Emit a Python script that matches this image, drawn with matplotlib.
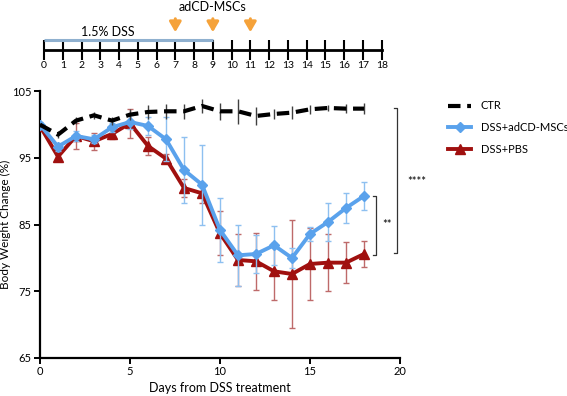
import matplotlib
matplotlib.use("Agg")
import matplotlib.pyplot as plt
import numpy as np

plt.rcParams['font.family'] = ['Lato', 'DejaVu Sans']

days = list(range(19))
ctr = [100.0, 98.5, 100.6, 101.4, 100.6, 101.5, 101.9, 102.0, 102.0, 102.8, 102.0, 102.0,
       101.3, 101.6, 101.8, 102.3, 102.5, 102.4, 102.4]
ctr_err = [0.3, 0.5, 0.5, 0.5, 0.6, 0.8, 1.1, 1.1, 1.1, 1.1, 1.25, 1.9,
           1.3, 0.8, 1.0, 0.7, 0.5, 0.7, 0.8]
msc = [100.0, 96.7, 98.3, 97.8, 99.6, 100.4, 99.8, 97.8, 93.2, 91.0, 84.2, 80.4,
       80.6, 81.9, 80.0, 83.6, 85.4, 87.5, 89.3]
msc_err = [0.4, 0.6, 0.7, 0.6, 0.7, 1.0, 1.4, 3.3, 5.0, 6.0, 4.75, 4.55,
           2.9, 2.9, 1.5, 1.0, 2.9, 2.3, 2.05]
pbs = [99.8, 95.2, 98.3, 97.5, 98.6, 100.2, 96.8, 94.9, 90.5, 89.7, 83.7, 79.7,
       79.5, 78.0, 77.6, 79.1, 79.3, 79.3, 80.6]
pbs_err = [0.4, 0.5, 1.9, 1.25, 0.8, 2.15, 1.3, 0.7, 1.3, 1.5, 3.3, 3.9,
           4.25, 4.3, 8.1, 5.4, 4.3, 3.1, 1.9]

timeline_days = list(range(19))
dss_period = (0, 9)
injection_days = [7, 9, 11]

fig = plt.figure(figsize=(5.67, 3.96), dpi=100)

# ---------- main axes ----------
ax = fig.add_axes([40/567, 1-358/396, 360/567, (358-91.3)/396])
blue = '#5AA2EC'
red = '#A0100F'

ax.errorbar(days, pbs, yerr=pbs_err, fmt='none', ecolor='#BE6A6A', elinewidth=1.0,
            capsize=2, capthick=1.0, zorder=2)
ax.plot(days, pbs, color=red, lw=2.8, marker='^', ms=6.5, zorder=3, label='DSS+PBS')
ax.errorbar(days, msc, yerr=msc_err, fmt='none', ecolor='#8EC0F0', elinewidth=1.0,
            capsize=2, capthick=1.0, zorder=4)
ax.plot(days, msc, color=blue, lw=2.8, marker='D', ms=5.5, zorder=5, label='DSS+adCD-MSCs')
ax.errorbar(days, ctr, yerr=ctr_err, fmt='none', ecolor='#404040', elinewidth=1.0,
            capsize=0, zorder=6)
ax.plot(days, ctr, color='black', lw=3, dashes=(3.0, 1.6), zorder=7, label='CTR')

ax.set_xlim(0, 20)
ax.set_ylim(65, 105)
ax.set_xticks([0, 5, 10, 15, 20])
ax.set_yticks([65, 75, 85, 95, 105])
for s in ['top', 'right']:
    ax.spines[s].set_visible(False)
for s in ['left', 'bottom']:
    ax.spines[s].set_linewidth(1.6)
ax.tick_params(direction='out', length=4, width=1.4, labelsize=8, pad=2)
ax.set_xlabel('Days from DSS treatment', fontsize=9, labelpad=3)
ax.set_ylabel('Body Weight Change (%)', fontsize=8.5, labelpad=1)

# significance brackets
def bracket(x, y0, y1, tick=0.15):
    ax.plot([x - tick, x, x, x - tick], [y0, y0, y1, y1], color='#333333', lw=0.9,
            clip_on=False)
bracket(19.83, 80.75, 102.5)
bracket(18.65, 80.45, 89.3)
ax.text(20.93, 91.4, '****', ha='center', va='center', fontsize=8, clip_on=False)
ax.text(19.28, 84.95, '**', ha='center', va='center', fontsize=8, clip_on=False)

handles, labels = ax.get_legend_handles_labels()
order = [2, 1, 0]
fig.legend([handles[i] for i in order], [labels[i] for i in order],
           loc='upper left', bbox_to_anchor=(444/567, 1-96/396), frameon=False,
           fontsize=8, handlelength=2.0, handletextpad=0.9, labelspacing=0.95,
           borderaxespad=0)

# ---------- timeline axes ----------
tl = fig.add_axes([44/567, 1-50/396, (381.7-44)/567, 50/396])
tl.set_xlim(0, 18)
tl.set_ylim(0, 50)
tl.patch.set_visible(False)
for s in ['top', 'right', 'left']:
    tl.spines[s].set_visible(False)
tl.spines['bottom'].set_linewidth(2)
tl.spines['bottom'].set_clip_on(False)
tl.set_yticks([])
tl.set_xticks(timeline_days)
tl.tick_params(axis='x', direction='inout', length=14, width=1.5, labelsize=7.5, pad=1)
tl.plot(dss_period, [10, 10], color='#8FB0CF', lw=2.2, solid_capstyle='butt', clip_on=False)
tl.text(np.mean(dss_period) - 1.1, 12, '1.5% DSS', ha='center', va='bottom', fontsize=9)
for d in injection_days:
    tl.annotate('', xy=(d, 15), xytext=(d, 34),
                arrowprops=dict(arrowstyle='-|>,head_length=0.6,head_width=0.35',
                                color='#F5A23A', lw=2.2), annotation_clip=False)
tl.text(9, 43, 'adCD-MSCs', ha='center', va='center', fontsize=9)

fig.savefig('out.png', dpi=100)
